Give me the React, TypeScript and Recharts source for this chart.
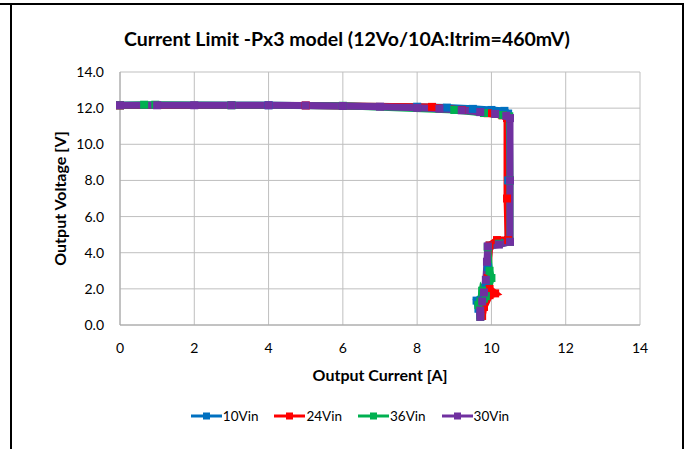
import React from 'react';
import { LineChart, Line, XAxis, YAxis, CartesianGrid } from 'recharts';

// Output current [A] / output voltage [V] per input voltage
const amps10 = [0, 4, 8, 8.8, 9.5, 10, 10.35, 10.45, 10.45, 10.45, 10.2, 9.95, 9.9, 9.85, 9.8, 9.6, 9.65, 9.7];
const volts10 = [12.16, 12.16, 12.08, 12.03, 11.96, 11.9, 11.85, 11.7, 8.0, 4.7, 4.55, 4.4, 3.2, 2.2, 1.6, 1.35, 0.9, 0.55];

const amps24 = [0, 5, 8.4, 9.2, 9.9, 10.3, 10.42, 10.42, 10.45, 10.15, 9.95, 9.9, 9.95, 10.1, 9.95, 9.8, 9.75];
const volts24 = [12.15, 12.15, 12.07, 11.9, 11.72, 11.6, 11.45, 7.0, 4.7, 4.7, 4.4, 2.6, 2.0, 1.75, 1.65, 1.0, 0.5];

const amps36 = [0, 0.65, 0.95, 3, 6, 9, 9.8, 10.3, 10.48, 10.5, 10.5, 10.2, 9.9, 9.95, 10.0, 9.85, 9.75, 9.7, 9.65, 9.7];
const volts36 = [12.16, 12.19, 12.19, 12.16, 12.13, 11.9, 11.73, 11.62, 11.55, 8.0, 4.6, 4.5, 4.3, 3.0, 2.6, 1.6, 1.9, 1.3, 1.1, 0.45];

const amps30 = [0, 1, 2, 3, 4, 5, 6, 7, 8, 8.6, 9.2, 9.7, 10.1, 10.4, 10.5, 10.5, 10.5, 10.2, 9.9, 9.88, 9.85, 9.8, 9.75, 9.7, 9.7];
const volts30 = [12.16, 12.16, 12.16, 12.16, 12.16, 12.15, 12.12, 12.08, 12.02, 11.97, 11.88, 11.78, 11.68, 11.58, 11.45, 8.0, 4.6, 4.45, 4.35, 3.5, 2.5, 1.8, 1.3, 0.8, 0.45];

const xTicks = [0, 2, 4, 6, 8, 10, 12, 14];
const yTicks = [0, 2, 4, 6, 8, 10, 12, 14];
const xMinorTicks = [0.5, 1, 1.5, 2.5, 3, 3.5, 4.5, 5, 5.5, 6.5, 7, 7.5, 8.5, 9, 9.5, 10.5, 11, 11.5, 12.5, 13, 13.5];
const yMinorTicks = [0.5, 1, 1.5, 2.5, 3, 3.5, 4.5, 5, 5.5, 6.5, 7, 7.5, 8.5, 9, 9.5, 10.5, 11, 11.5, 12.5, 13, 13.5];

const toPoints = (xs: number[], ys: number[]) => xs.map((x, i) => ({ x, y: ys[i] }));

const series = [
  { name: '10Vin', color: '#0070C0', data: toPoints(amps10, volts10) },
  { name: '24Vin', color: '#FF0000', data: toPoints(amps24, volts24) },
  { name: '36Vin', color: '#00B050', data: toPoints(amps36, volts36) },
  { name: '30Vin', color: '#7030A0', data: toPoints(amps30, volts30) },
];

const FONT = 'Lato, "Open Sans", sans-serif';

const squareDot = (color: string, name: string) => (p: any) => (
  <rect key={`${name}-${p.index}`} x={p.cx - 4} y={p.cy - 4} width={8} height={8} fill={color} />
);

const App: React.FC = () => {
  return (
    <div style={{ position: 'absolute', left: 0, top: 0, width: 684, height: 449, background: '#fff', fontFamily: FONT }}>
      {/* outer frame */}
      <div style={{ position: 'absolute', left: 0, top: 3, width: 684, height: 2, background: '#000' }} />
      <div style={{ position: 'absolute', left: 10, top: 3, width: 2, height: 446, background: '#000' }} />
      <div style={{ position: 'absolute', left: 682, top: 3, width: 2, height: 446, background: '#000' }} />

      <div style={{ position: 'absolute', left: 0, top: 27, width: 694, textAlign: 'center', fontSize: 19.5, fontWeight: 700, color: '#000' }}>
        Current Limit -Px3 model (12Vo/10A:Itrim=460mV)
      </div>

      <div style={{ position: 'absolute', left: 0, top: 0 }}>
        <LineChart width={684} height={449} margin={{ top: 72, right: 44, bottom: 0, left: 0 }}>
          <CartesianGrid stroke="#BFBFBF" strokeWidth={1} />
          <XAxis
            type="number"
            dataKey="x"
            domain={[0, 14]}
            ticks={xTicks}
            interval={0}
            height={124}
            tickLine={false}
            tickSize={0}
            tickMargin={18}
            axisLine={{ stroke: '#A6A6A6' }}
            tick={{ fontSize: 14, fill: '#000', fontFamily: FONT }}
            label={{
              content: (props: any) => {
                const vb = props.viewBox || { x: 120, y: 325, width: 520 };
                return (
                  <text x={vb.x + vb.width / 2} y={vb.y + 56} textAnchor="middle" fontSize={16} fontWeight={700} fill="#000" fontFamily={FONT}>
                    Output Current [A]
                  </text>
                );
              },
            }}
          />
          <YAxis
            type="number"
            dataKey="y"
            domain={[0, 14]}
            ticks={yTicks}
            interval={0}
            width={120}
            tickLine={false}
            tickSize={0}
            tickMargin={16}
            axisLine={{ stroke: '#A6A6A6' }}
            tickFormatter={(v: number) => v.toFixed(1)}
            tick={{ fontSize: 14, fill: '#000', fontFamily: FONT }}
            label={{
              content: (props: any) => {
                const vb = props.viewBox || { x: 0, y: 72, height: 253 };
                const cx = vb.x + 59;
                const cy = vb.y + vb.height / 2;
                return (
                  <text x={cx} y={cy} transform={`rotate(-90 ${cx} ${cy})`} textAnchor="middle" dominantBaseline="central" fontSize={16} fontWeight={700} fill="#000" fontFamily={FONT}>
                    Output Voltage [V]
                  </text>
                );
              },
            }}
          />
          {/* minor tick marks, drawn inside the plot */}
          <XAxis xAxisId="minor" type="number" domain={[0, 14]} ticks={xMinorTicks} interval={0} mirror height={0} axisLine={false} tick={false} tickSize={5} tickLine={{ stroke: '#A6A6A6' }} />
          <YAxis yAxisId="minor" type="number" domain={[0, 14]} ticks={yMinorTicks} interval={0} mirror width={0} axisLine={false} tick={false} tickSize={5} tickLine={{ stroke: '#A6A6A6' }} />

          {series.map(s => (
            <Line
              key={s.name}
              data={s.data}
              dataKey="y"
              name={s.name}
              type="linear"
              stroke={s.color}
              strokeWidth={7}
              strokeLinejoin="miter"
              dot={squareDot(s.color, s.name)}
              activeDot={false}
              isAnimationActive={false}
            />
          ))}
        </LineChart>
      </div>

      {/* legend */}
      <div style={{ position: 'absolute', left: 0, top: 408, width: 700, display: 'flex', justifyContent: 'center', gap: 16, fontSize: 13.5, color: '#000' }}>
        {series.map(s => (
          <div key={s.name} style={{ display: 'flex', alignItems: 'center' }}>
            <svg width={31} height={12}>
              <line x1={0} y1={6} x2={31} y2={6} stroke={s.color} strokeWidth={3} />
              <rect x={12} y={2.5} width={7} height={7} fill={s.color} />
            </svg>
            <span style={{ marginLeft: 1 }}>{s.name}</span>
          </div>
        ))}
      </div>
    </div>
  );
};

export default App;
